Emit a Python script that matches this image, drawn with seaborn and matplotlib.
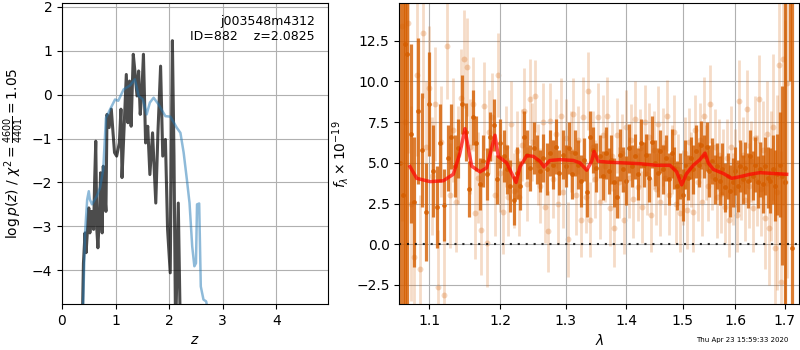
import numpy as np
import matplotlib
matplotlib.use("Agg")
import matplotlib.pyplot as plt
from matplotlib.ticker import NullLocator
import seaborn as sns

# ---- redshift panel ----
z_chi = [0.374, 0.40, 0.43, 0.45, 0.47, 0.50, 0.52, 0.55, 0.59, 0.61, 0.63, 0.65, 0.67,
         0.70, 0.72, 0.75, 0.77, 0.79, 0.82, 0.84, 0.88, 0.92, 0.95, 0.98, 1.02, 1.07,
         1.10, 1.12, 1.16, 1.20, 1.23, 1.26, 1.29, 1.33, 1.36, 1.40, 1.43, 1.46, 1.49,
         1.52, 1.56, 1.60, 1.64, 1.69, 1.75, 1.79, 1.84, 1.88, 1.93, 1.97, 2.02, 2.06,
         2.09, 2.12, 2.17, 2.21]
chi_val = [-5.5, -3.84, -3.15, -3.6, -3.19, -2.58, -3.15, -2.66, -3.07, -1.93, -1.06, -3.07, -3.49,
           -2.69, -1.78, -3.15, -1.63, -2.09, -2.66, -0.45, -0.75, -0.33, -0.83, -1.32, -1.40, -1.10,
           -0.33, -1.89, -0.72, 0.46, -0.64, 0.31, -0.72, 0.92, 0.54, -0.03, 0.54, -0.45, 0.05,
           0.92, -1.10, -0.72, -1.82, -0.87, -2.47, -0.87, 0.65, -1.40, -1.02, -3.07, -4.06, 1.23,
           -1.40, -5.5, -2.47, -5.5]

z_pz = [0.39, 0.43, 0.47, 0.50, 0.52, 0.56, 0.65, 0.71, 0.77, 0.82, 0.90, 0.99, 1.05, 1.15,
        1.27, 1.36, 1.43, 1.51, 1.58, 1.64, 1.71, 1.80, 1.93, 2.02, 2.09, 2.14, 2.21, 2.27,
        2.33, 2.38, 2.43, 2.47, 2.50, 2.52, 2.56, 2.59, 2.64, 2.69, 2.72, 2.77]
pz_val = [-5.0, -3.15, -2.39, -2.2, -2.39, -2.5, -2.31, -2.12, -1.70, -0.53, -0.33, -0.11, -0.14, 0.12,
          0.21, 0.35, -0.03, -0.11, -0.45, -0.18, -0.07, -0.22, -0.49, -0.50, -0.64, -0.75, -0.87, -1.32,
          -1.93, -2.47, -3.46, -3.91, -3.84, -2.50, -2.48, -4.37, -4.67, -4.71, -4.9, -5.5]

# ---- spectrum panel ----
lam_bin = [1.0615, 1.0645, 1.068, 1.071,
           1.075, 1.080, 1.085, 1.090, 1.095, 1.100, 1.105, 1.110,
           1.115, 1.120, 1.125, 1.130, 1.135, 1.140, 1.145, 1.150, 1.155, 1.160,
           1.165, 1.170, 1.175, 1.180, 1.185, 1.190, 1.195, 1.200, 1.205, 1.210,
           1.215, 1.220, 1.225, 1.230, 1.235, 1.240, 1.245, 1.250, 1.255, 1.260,
           1.265, 1.270, 1.275, 1.280, 1.285, 1.290, 1.295, 1.300, 1.305, 1.310,
           1.315, 1.320, 1.325, 1.330, 1.335, 1.340, 1.345, 1.350, 1.355, 1.360,
           1.365, 1.370, 1.375, 1.380, 1.385, 1.390, 1.395, 1.400, 1.405, 1.410,
           1.415, 1.420, 1.425, 1.430, 1.435, 1.440, 1.445, 1.450, 1.455, 1.460,
           1.465, 1.470, 1.475, 1.480, 1.485, 1.490, 1.495, 1.500, 1.505, 1.510,
           1.515, 1.520, 1.525, 1.530, 1.535, 1.540, 1.545, 1.550, 1.555, 1.560,
           1.565, 1.570, 1.575, 1.580, 1.585, 1.590, 1.595, 1.600, 1.605, 1.610,
           1.615, 1.620, 1.625, 1.630, 1.635, 1.640, 1.645, 1.650, 1.655, 1.660,
           1.665, 1.670, 1.675, 1.680, 1.685, 1.690, 1.695, 1.700,
           1.712, 1.715]
flux_bin = [5.0, 3.0, 12.3, 11.7,
            6.8, 2.6, 8.2, 5.8, 2.0, 8.6, 4.5, 2.3,
            6.2, 2.4, 5.3, 6.6, 4.8, 5.9, 8.6, 6.9, 3.4, 7.8,
            6.2, 3.7, 5.1, 4.3, 6.6, 7.3, 4.0, 6.2, 5.4, 4.6,
            3.6, 2.7, 4.4, 3.6, 6.6, 5.5, 4.7, 5.9, 5.2, 4.5,
            5.3, 4.6, 5.6, 4.9, 6.0, 4.4, 5.5, 4.8, 5.9, 4.3,
            5.6, 4.9, 3.9, 5.2, 3.2, 6.6, 5.8, 4.7, 5.4, 4.2,
            5.6, 4.5, 5.2, 3.8, 2.9, 5.5, 4.6, 3.9, 5.9, 4.8,
            5.4, 4.3, 6.2, 4.9, 5.5, 4.1, 6.3, 5.0, 4.4, 5.7,
            4.6, 5.3, 4.0, 5.6, 4.7, 3.6, 4.2, 3.0, 4.9, 4.1,
            5.3, 4.6, 5.7, 4.9, 6.1, 5.4, 6.0, 4.5, 5.1, 4.0,
            4.8, 3.9, 4.6, 3.5, 4.2, 3.3, 3.8, 4.5, 3.6, 4.8,
            4.0, 4.7, 3.9, 5.4, 4.2, 4.9, 3.8, 4.6, 3.7, 4.8,
            4.1, 3.9, 4.6, 3.6, 4.3, 4.9, 4.2, 3.8,
            22.0, -0.2]
err_bin = [30, 30, 20, 20,
           5.5, 4.0, 4.5, 3.5, 3.0, 3.2, 2.8, 2.5,
           2.4, 2.2, 2.0, 2.0, 1.9, 1.8, 1.8, 1.8, 1.7, 1.7,
           1.7, 1.6, 1.6, 1.6, 1.5, 1.6, 1.5, 1.5, 1.6, 1.5,
           1.6, 1.5, 1.6, 1.5, 1.6, 1.5, 1.4, 1.6, 1.5, 1.3,
           1.5, 1.6, 1.4, 1.5, 1.7, 1.4, 1.5, 1.3, 1.6, 1.5,
           1.4, 1.5, 1.6, 1.3, 1.5, 1.6, 1.4, 1.5, 1.3, 1.5,
           1.6, 1.4, 1.5, 1.5, 1.3, 1.6, 1.4, 1.5, 1.5, 1.3,
           1.4, 1.6, 1.5, 1.4, 1.3, 1.5, 1.6, 1.4, 1.5, 1.3,
           1.5, 1.4, 1.6, 1.5, 1.3, 1.5, 1.4, 1.6, 1.5, 1.4,
           1.3, 1.5, 1.6, 1.4, 1.5, 1.3, 1.5, 1.6, 1.4, 1.5,
           1.4, 1.5, 1.6, 1.5, 1.4, 1.6, 1.5, 1.5, 1.6, 1.6,
           1.5, 1.6, 1.7, 1.6, 1.5, 1.7, 1.6, 1.7, 1.8, 1.8,
           1.9, 2.0, 2.1, 2.2, 2.5, 3.2, 5.5, 20.0,
           12.0, 25.0]

lam_raw = [1.064, 1.068, 1.072, 1.076, 1.080, 1.084, 1.088, 1.092, 1.096, 1.100,
           1.104, 1.108, 1.112, 1.116, 1.120, 1.124, 1.128, 1.132, 1.136, 1.140,
           1.144, 1.148, 1.152, 1.156, 1.160, 1.164, 1.168, 1.172, 1.176, 1.180,
           1.184, 1.188, 1.192, 1.196, 1.200, 1.204, 1.208, 1.212, 1.216, 1.220,
           1.224, 1.228, 1.232, 1.236, 1.240, 1.244, 1.248, 1.252, 1.256, 1.260,
           1.264, 1.268, 1.272, 1.276, 1.280, 1.284, 1.288, 1.292, 1.296, 1.300,
           1.304, 1.308, 1.312, 1.316, 1.320, 1.324, 1.328, 1.332, 1.336, 1.340,
           1.344, 1.348, 1.352, 1.356, 1.360, 1.364, 1.368, 1.372, 1.376, 1.380,
           1.384, 1.388, 1.392, 1.396, 1.400, 1.404, 1.408, 1.412, 1.416, 1.420,
           1.424, 1.428, 1.432, 1.436, 1.440, 1.444, 1.448, 1.452, 1.456, 1.460,
           1.464, 1.468, 1.472, 1.476, 1.480, 1.484, 1.488, 1.492, 1.496, 1.500,
           1.504, 1.508, 1.512, 1.516, 1.520, 1.524, 1.528, 1.532, 1.536, 1.540,
           1.544, 1.548, 1.552, 1.556, 1.560, 1.564, 1.568, 1.572, 1.576, 1.580,
           1.584, 1.588, 1.592, 1.596, 1.600, 1.604, 1.608, 1.612, 1.616, 1.620,
           1.624, 1.628, 1.632, 1.636, 1.640, 1.644, 1.648, 1.652, 1.656, 1.660,
           1.664, 1.668, 1.672, 1.676, 1.680, 1.684, 1.688, 1.692, 1.696, 1.700,
           1.704]
flux_raw = [13.4, 7.5, 13.6, 2.5, -0.8, 10.4, -1.5, 13.0, 6.0, 9.6,
            4.2, 8.6, -2.6, 6.3, -3.1, 12.2, 3.0, 7.0, 2.6, 5.5,
            9.0, 11.4, 10.9, 6.0, 8.6, 1.9, 4.1, 0.9, 8.5, 0.1,
            6.9, 7.8, 3.0, 10.4, 4.4, 2.0, 6.0, 2.9, 7.4, 3.3,
            5.7, 2.9, 6.1, 8.2, 3.7, 8.9, 6.3, 9.1, 4.9, 3.6,
            7.5, 2.3, 0.8, 7.6, 4.0, 6.8, 2.5, 7.9, 3.2, 6.5,
            0.3, 5.7, 8.0, 3.0, 6.4, 1.5, 7.8, 2.9, 9.4, 1.5,
            6.0, 4.0, 7.8, 2.6, 6.7, 4.8, 7.9, 2.2, 5.4, 1.0,
            6.7, 3.8, 5.6, 1.5, 7.2, 4.1, 6.4, 2.8, 7.7, 3.5,
            5.9, 2.3, 7.5, 4.3, 6.6, 1.8, 5.8, 3.4, 7.4, 2.6,
            6.0, 4.1, 7.9, 3.0, 5.2, 6.9, 2.5, 4.6, 1.9, 3.5,
            5.6, 2.1, 6.3, 4.6, 2.0, 7.0, 3.8, 6.4, 2.6, 7.9,
            5.0, 3.6, 8.6, 4.2, 6.0, 2.9, 5.5, 3.1, 4.8, 2.3,
            5.3, 1.5, 6.0, 3.4, 4.7, 1.8, 8.8, 3.9, 5.5, 2.7,
            8.3, 3.6, 5.1, 2.2, 6.5, 3.9, 8.9, 3.4, 5.8, 1.6,
            6.8, 1.0, 4.2, 7.2, -0.2, 3.2, 11.0, -2.3, 11.4, 3.8,
            9.9]
err_raw = [12, 10, 8, 6, 5, 5, 4.5, 4, 4, 3.8,
           3.6, 3.5, 3.5, 3.4, 3.4, 3.3, 3.2, 3.2, 3.1, 3.0,
           3.0, 3.0, 3.0, 2.9, 2.9, 2.8, 2.8, 2.8, 2.7, 2.7,
           2.6, 2.7, 2.5, 2.6, 2.4, 2.6, 2.5, 2.4, 2.6, 2.3,
           2.5, 2.4, 2.2, 2.6, 2.3, 2.5, 2.4, 2.2, 2.5, 2.3,
           2.4, 2.2, 2.5, 2.3, 2.4, 2.1, 2.5, 2.3, 2.2, 2.4,
           2.3, 2.5, 2.2, 2.4, 2.1, 2.3, 2.5, 2.2, 2.4, 2.3,
           2.2, 2.4, 2.1, 2.3, 2.5, 2.2, 2.4, 2.3, 2.1, 2.4,
           2.3, 2.2, 2.4, 2.1, 2.3, 2.5, 2.2, 2.4, 2.3, 2.1,
           2.4, 2.2, 2.3, 2.5, 2.1, 2.3, 2.4, 2.2, 2.3, 2.1,
           2.4, 2.3, 2.2, 2.4, 2.1, 2.3, 2.5, 2.2, 2.4, 2.3,
           2.2, 2.4, 2.1, 2.3, 2.5, 2.2, 2.4, 2.3, 2.1, 2.4,
           2.3, 2.2, 2.4, 2.1, 2.3, 2.5, 2.2, 2.4, 2.3, 2.2,
           2.4, 2.3, 2.5, 2.2, 2.4, 2.3, 2.5, 2.4, 2.3, 2.5,
           2.4, 2.6, 2.5, 2.7, 2.6, 2.8, 2.7, 2.9, 3.0, 3.1,
           3.2, 3.5, 4.0, 4.5, 5.0, 6.0, 7.0, 8.0, 9.0, 10.0,
           12.0]

lam_model = [1.0743, 1.0832, 1.1009, 1.119, 1.1328, 1.1421, 1.1491, 1.1538, 1.1586, 1.1705,
             1.1801, 1.1922, 1.197, 1.2094, 1.2168, 1.2233, 1.2292, 1.2394, 1.2494, 1.2597,
             1.2659, 1.2751, 1.291, 1.3122, 1.323, 1.3339, 1.3421, 1.3459, 1.353, 1.367,
             1.395, 1.4239, 1.4532, 1.4771, 1.4893, 1.4984, 1.5076, 1.5199, 1.5324, 1.5419,
             1.5481, 1.5576, 1.5768, 1.5931, 1.6093, 1.6292, 1.6492, 1.6763, 1.704]
flux_model = [4.77, 4.05, 3.85, 3.9, 4.3, 5.6, 7.1, 5.9, 4.8, 4.45,
              4.7, 6.7, 5.4, 5.0, 4.35, 3.8, 4.75, 5.45, 5.4, 5.1,
              4.75, 5.15, 5.2, 5.15, 5.0, 4.55, 5.1, 5.7, 5.1, 5.05,
              5.0, 4.95, 4.85, 4.85, 4.45, 3.65, 4.35, 4.85, 5.2, 5.6,
              5.0, 4.6, 4.35, 4.05, 4.15, 4.3, 4.4, 4.35, 4.3]

lam_ticks = [1.1, 1.2, 1.3, 1.4, 1.5, 1.6, 1.7]
lam_tick_labels = ["1.1", "1.2", "1.3", "1.4", "1.5", "1.6", "1.7"]

grism_color = (0.8353, 0.3686, 0.0)

fig = plt.figure(figsize=(8, 3.5), dpi=100)
ax1 = fig.add_axes([0.0775, 0.1314, 0.3329, 0.859])
ax2 = fig.add_axes([0.4991, 0.1314, 0.5, 0.859])

# left: p(z)
sns.lineplot(x=z_chi, y=chi_val, ax=ax1, color="k", alpha=0.7, lw=2.2,
             estimator=None, sort=False)
sns.lineplot(x=z_pz, y=pz_val, ax=ax1, color="tab:blue", alpha=0.5, lw=1.8,
             estimator=None, sort=False)
ax1.set_xlim(0, 4.97)
ax1.set_ylim(-4.77, 2.08)
ax1.set_xticks([0, 1, 2, 3, 4])
ax1.grid(True)
ax1.set_xlabel("$z$")
ax1.set_ylabel(r"$\log p(z)$ / $\chi^2=\frac{4600}{4401}=1.05$")
ax1.text(0.95, 0.96, "j003548m4312\nID=882    z=2.0825", transform=ax1.transAxes,
         ha="right", va="top", fontsize=9)

# right: spectrum
ax2.set_xscale("log")
ax2.errorbar(lam_raw, flux_raw, yerr=err_raw, fmt="none", ecolor=grism_color,
             alpha=0.22, elinewidth=2.0)
sns.scatterplot(x=lam_raw, y=flux_raw, ax=ax2, color=grism_color, alpha=0.25,
                s=18, linewidth=0)
ax2.errorbar(lam_bin, flux_bin, yerr=err_bin, fmt="none", ecolor=grism_color,
             alpha=0.8, elinewidth=2.3)
sns.scatterplot(x=lam_bin, y=flux_bin, ax=ax2, color=grism_color, alpha=0.85,
                s=12, linewidth=0)
sns.lineplot(x=lam_model, y=flux_model, ax=ax2, color="r", alpha=0.7, lw=2.5,
             estimator=None, sort=False)
ax2.axhline(0, color="k", linestyle=(0, (1, 2.8)), lw=1.5, alpha=0.8)
ax2.set_xlim(1.0603, 1.7306)
ax2.set_ylim(-3.67, 14.8)
ax2.set_xticks(lam_ticks, lam_tick_labels)
ax2.xaxis.set_minor_locator(NullLocator())
ax2.set_yticks([-2.5, 0.0, 2.5, 5.0, 7.5, 10.0, 12.5])
ax2.grid(True)
ax2.set_xlabel(r"$\lambda$")
ax2.set_ylabel(r"$f_\lambda\times 10^{-19}$")

fig.text(0.985, 0.02, "Thu Apr 23 15:59:33 2020", ha="right", va="bottom", fontsize=5)

fig.savefig("out.png", dpi=100)
